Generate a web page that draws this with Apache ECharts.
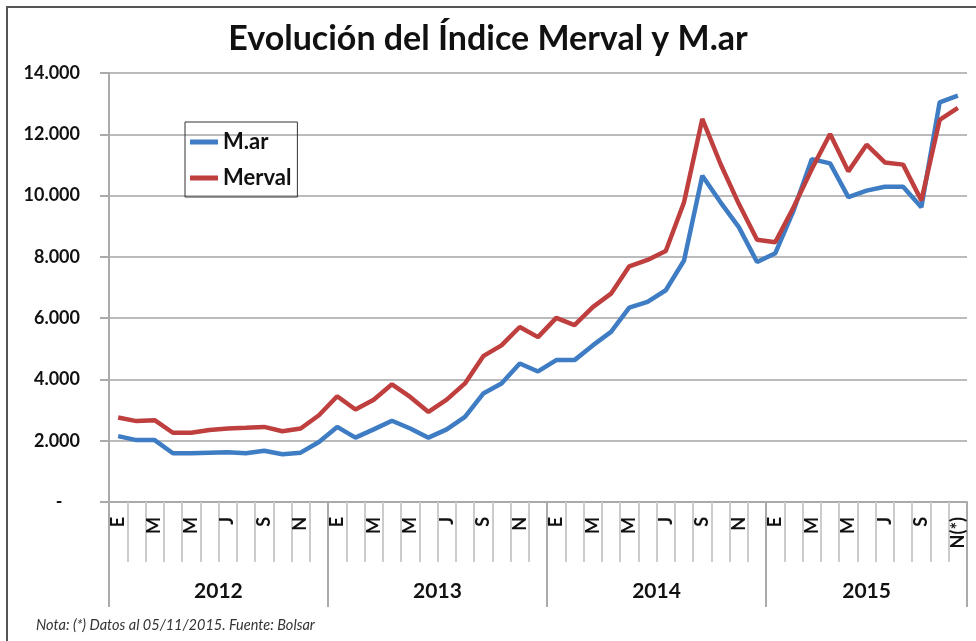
<!DOCTYPE html>
<html>
<head>
<meta charset="utf-8">
<script src="https://cdn.jsdelivr.net/npm/echarts@6/dist/echarts.min.js"></script>
<style>
  html, body { margin: 0; padding: 0; background: #fff; }
  #chart { width: 976px; height: 641px; }
</style>
</head>
<body>
<div id="chart"></div>
<script>
// meses (E=enero ... N(*)=noviembre 2015)
var months = [
  'E','F','M','A','M','J','J','A','S','O','N','D',
  'E','F','M','A','M','J','J','A','S','O','N','D',
  'E','F','M','A','M','J','J','A','S','O','N','D',
  'E','F','M','A','M','J','J','A','S','O','N(*)'
];
var years = ['2012', '2013', '2014', '2015'];
var yearStart = [0, 12, 24, 36];
var yTicks = [0, 2000, 4000, 6000, 8000, 10000, 12000, 14000];

var mar = [
  2150, 2020, 2020, 1590, 1590, 1610, 1620, 1590, 1670, 1560, 1610, 1960,
  2450, 2100, 2370, 2650, 2400, 2100, 2370, 2780, 3540, 3870, 4520, 4260,
  4630, 4630, 5110, 5550, 6340, 6530, 6910, 7880, 10650, 9780, 8970, 7830,
  8120, 9510, 11190, 11050, 9950, 10160, 10290, 10290, 9620, 13040, 13260
];
var merval = [
  2760, 2640, 2670, 2260, 2260, 2350, 2400, 2420, 2450, 2310, 2400, 2830,
  3450, 3020, 3340, 3840, 3430, 2940, 3340, 3870, 4760, 5110, 5710, 5380,
  6010, 5770, 6360, 6800, 7690, 7900, 8190, 9780, 12500, 11030, 9730, 8560,
  8480, 9620, 10870, 12010, 10790, 11660, 11080, 11010, 9840, 12470, 12860
];

var font = 'Lato, "Open Sans", sans-serif';

// posicion de la etiqueta de cada año (centro del bloque de meses)
function yearLabelIndex(i) {
  for (var k = 0; k < yearStart.length; k++) {
    var end = k + 1 < yearStart.length ? yearStart[k + 1] : months.length;
    if (i === Math.floor((yearStart[k] + end - 1) / 2)) return k;
  }
  return -1;
}

var chart = echarts.init(document.getElementById('chart'));

chart.setOption({
  backgroundColor: '#fff',
  animation: false,
  title: [
    {
      text: 'Evolución del Índice Merval y M.ar',
      left: 'center',
      top: 17,
      textStyle: { fontFamily: font, fontSize: 34, fontWeight: 'bold', color: '#111' }
    },
    {
      text: 'Nota: (*) Datos al 05/11/2015. Fuente: Bolsar',
      left: 31,
      top: 613,
      textStyle: { fontFamily: font, fontSize: 14.5, fontStyle: 'italic', fontWeight: 'normal', color: '#333' }
    }
  ],
  graphic: [
    {
      type: 'rect',
      shape: { x: 7, y: 7, width: 1200, height: 1200 },
      style: { fill: 'none', stroke: '#555', lineWidth: 2 },
      silent: true
    }
  ],
  legend: {
    orient: 'vertical',
    left: 185,
    top: 122,
    padding: [9, 6, 8, 5],
    itemGap: 14,
    itemWidth: 28,
    itemHeight: 5,
    icon: 'rect',
    borderColor: '#333',
    borderWidth: 1,
    textStyle: { fontFamily: font, fontSize: 22, fontWeight: 'bold', color: '#111' },
    data: ['M.ar', 'Merval']
  },
  grid: { left: 109, right: 9, top: 73, bottom: 139 },
  xAxis: [
    {
      type: 'category',
      data: months,
      position: 'bottom',
      boundaryGap: true,
      axisLine: { show: true, lineStyle: { color: '#aaa', width: 2 } },
      axisTick: { show: true, interval: 0, length: 60, lineStyle: { color: '#ccc', width: 2 } },
      axisLabel: {
        interval: 1,
        rotate: 90,
        margin: 15,
        fontFamily: font,
        fontSize: 18,
        fontWeight: 'bold',
        color: '#111'
      },
      splitLine: { show: false }
    },
    {
      type: 'category',
      data: months,
      position: 'bottom',
      boundaryGap: true,
      axisLine: { show: false },
      axisTick: {
        show: true,
        interval: function (i) { return yearStart.indexOf(i) >= 0; },
        length: 105,
        lineStyle: { color: '#aaa', width: 2 }
      },
      axisLabel: {
        interval: function (i) { return yearLabelIndex(i) >= 0; },
        margin: 79,
        formatter: function (v, i) {
          var k = yearLabelIndex(i);
          // bloques de 12 meses: corrido medio mes a la derecha
          return k === 3 ? '{c|' + years[k] + '}' : '{s|' + years[k] + '}';
        },
        rich: {
          s: { fontFamily: font, fontSize: 21, fontWeight: 'bold', color: '#111', padding: [0, 0, 0, 18] },
          c: { fontFamily: font, fontSize: 21, fontWeight: 'bold', color: '#111' }
        }
      },
      splitLine: { show: false }
    }
  ],
  yAxis: {
    type: 'value',
    min: yTicks[0],
    max: yTicks[yTicks.length - 1],
    interval: 2000,
    axisLine: { show: true, lineStyle: { color: '#aaa', width: 2 } },
    axisTick: { show: true, length: 9, lineStyle: { color: '#aaa', width: 2 } },
    axisLabel: {
      margin: 29,
      fontFamily: font,
      fontSize: 18,
      fontWeight: 'bold',
      color: '#111',
      formatter: function (v) {
        if (v === 0) return '-    ';
        return String(v).replace(/\B(?=(\d{3})+(?!\d))/g, '.');
      }
    },
    splitLine: { lineStyle: { color: '#bbb', width: 2 } }
  },
  series: [
    {
      name: 'M.ar',
      type: 'line',
      data: mar,
      symbol: 'none',
      itemStyle: { color: '#3E7CC3' },
      lineStyle: { color: '#3E7CC3', width: 4.5 }
    },
    {
      name: 'Merval',
      type: 'line',
      data: merval,
      symbol: 'none',
      itemStyle: { color: '#BF3F3F' },
      lineStyle: { color: '#BF3F3F', width: 4.5 }
    }
  ]
});
</script>
</body>
</html>
